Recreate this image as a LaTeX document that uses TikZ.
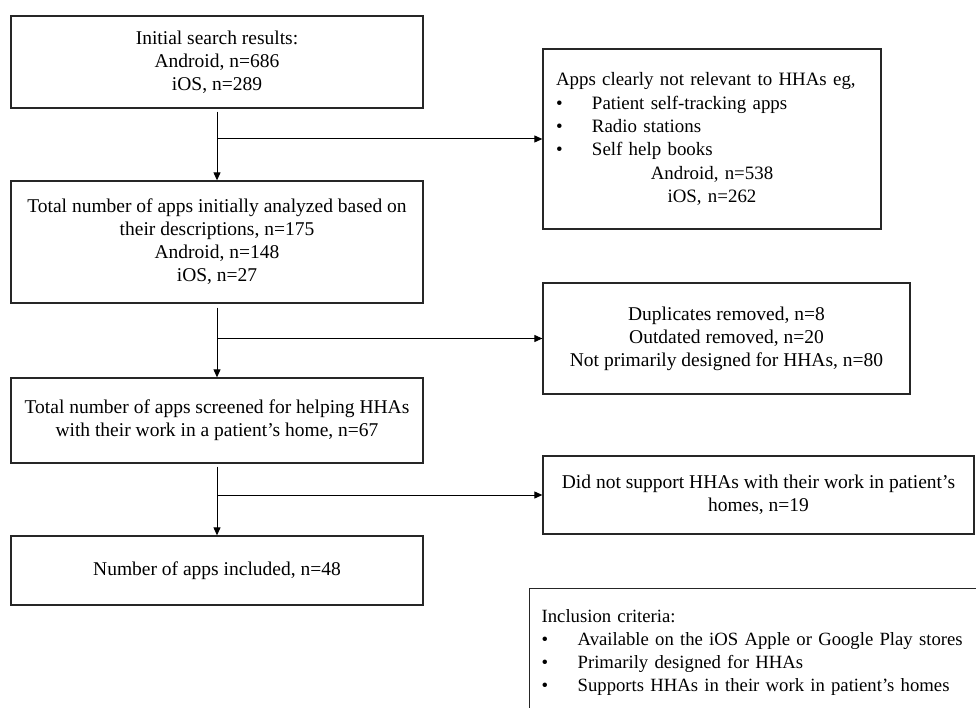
\documentclass[tikz,border=0pt]{standalone}
\usepackage{fontspec}
\setmainfont{Liberation Serif}
\usetikzlibrary{arrows.meta,positioning}
\newcommand{\blt}{\makebox[36pt][l]{\textbullet}}

\begin{document}
\begin{tikzpicture}[x=1pt,y=-1pt,>={Triangle[length=8pt,width=7pt]},
  font=\fontsize{19.5}{23}\selectfont,
  box/.style={draw=black!85,line width=1.3pt,align=center,inner sep=0pt},
  flow/.style={->,line width=1pt}]
\clip (0,0) rectangle (976,708);
% main column
\node[box,minimum width=412pt,minimum height=92pt] (search) at (217,62) {Initial search results:\\Android, n=686\\iOS, n=289};
\node[box,minimum width=412pt,minimum height=122pt] (analyzed) at (217,242) {Total number of apps initially analyzed based on\\their descriptions, n=175\\Android, n=148\\iOS, n=27};
\node[box,minimum width=412pt,minimum height=85pt] (screened) at (217,420.5) {Total number of apps screened for helping HHAs\\with their work in a patient’s home, n=67};
\node[box,minimum width=412pt,minimum height=69pt] (included) at (217,570.5) {Number of apps included, n=48};
% excluded
\node[box,align=left,text width=312pt,inner xsep=13pt,minimum height=180pt,font=\fontsize{18.9}{23.4}\selectfont] (notrel) at (712,139) {Apps clearly not relevant to HHAs eg,\\\blt Patient self-tracking apps\\\blt Radio stations\\\blt Self help books\par\centering Android, n=538\\iOS, n=262\par};
\node[box,minimum width=367pt,minimum height=111pt] (removed) at (726.5,338.5) {Duplicates removed, n=8\\Outdated removed, n=20\\Not primarily designed for HHAs, n=80};
\node[box,minimum width=431pt,minimum height=78pt] (nosupport) at (758.5,495) {Did not support HHAs with their work in patient’s\\homes, n=19};
\node[box,anchor=north west,align=left,text width=440pt,inner xsep=12pt,minimum height=128pt,font=\fontsize{18.7}{23.2}\selectfont] (criteria) at (529,588) {Inclusion criteria:\\\blt Available on the iOS Apple or Google Play stores\\\blt Primarily designed for HHAs\\\blt Supports HHAs in their work in patient’s homes};
% connectors
\draw[flow,shorten <=3pt] (search) -- (analyzed);
\draw[flow] (search.south |- notrel.west) -- (notrel.west);
\draw[flow,shorten <=4pt] (analyzed) -- (screened);
\draw[flow] (analyzed.south |- removed.west) -- (removed.west);
\draw[flow,shorten <=3pt] (screened) -- (included);
\draw[flow] (screened.south |- nosupport.west) -- (nosupport.west);
\end{tikzpicture}
\end{document}
